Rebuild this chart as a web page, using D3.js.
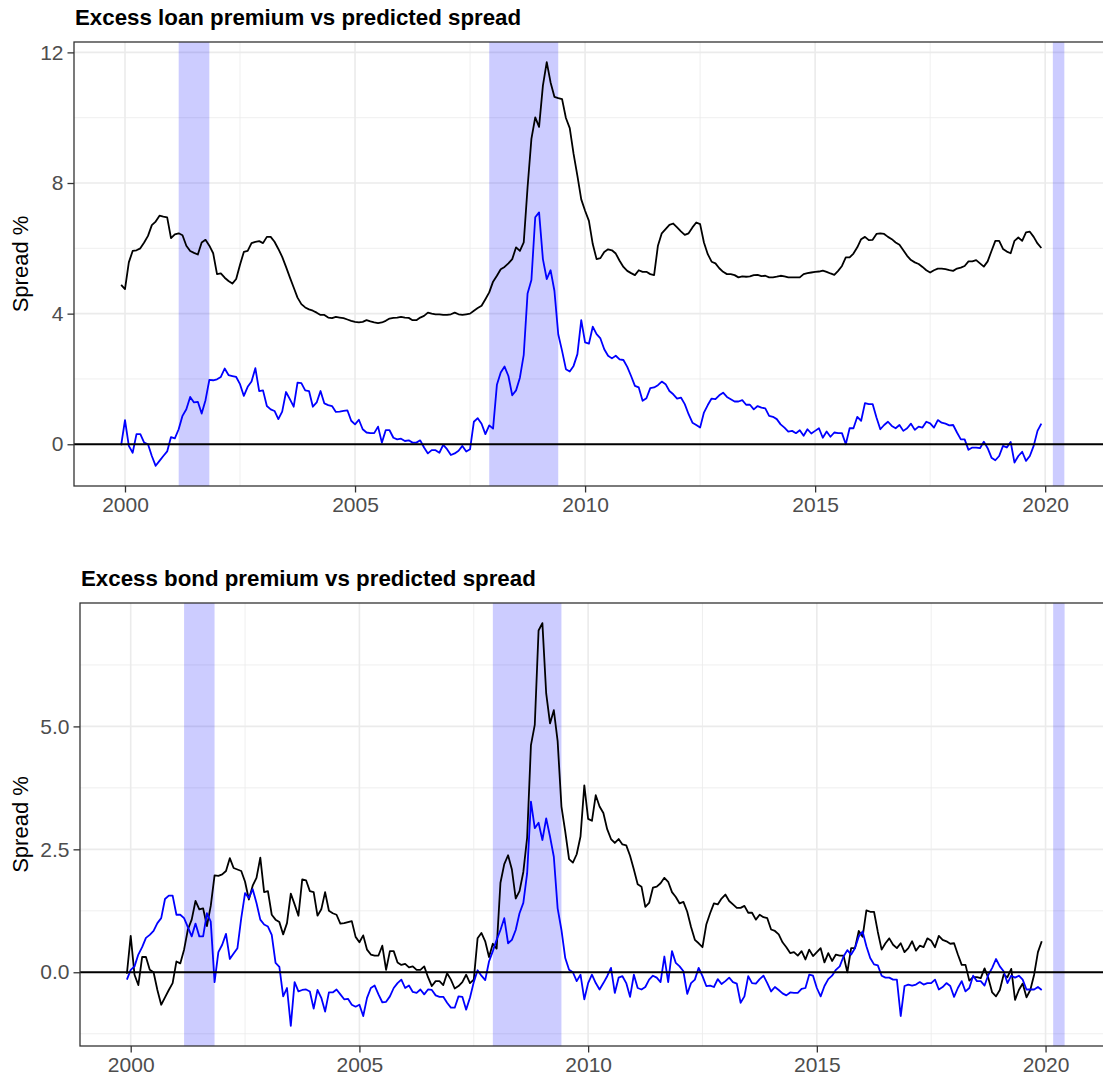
<!DOCTYPE html>
<meta charset="utf-8">
<head>
    <style>
        body { margin: 0; background: #fff; }
        text { font-family: "Liberation Sans", Arial, sans-serif; }
    </style>
    <script src="https://d3js.org/d3.v7.min.js"></script>
</head>
<body>
<script>
// monthly observations, Dec 1999 .. Dec 2019 (one row per year)
var firstMonth = 1999 + 11 / 12;

var excessLoanPremium = [4.88,
    4.75, 5.57, 5.92, 5.94, 6.0, 6.18, 6.38, 6.71, 6.82, 7.0, 6.97, 6.95,
    6.31, 6.43, 6.46, 6.4, 6.08, 5.92, 5.86, 5.81, 6.18, 6.26, 6.08, 5.85,
    5.21, 5.23, 5.1, 5.0, 4.92, 5.06, 5.5, 5.89, 5.92, 6.16, 6.2, 6.22,
    6.16, 6.35, 6.35, 6.2, 5.98, 5.74, 5.43, 5.11, 4.8, 4.49, 4.29, 4.19,
    4.13, 4.09, 4.03, 3.96, 3.96, 3.88, 3.86, 3.9, 3.88, 3.86, 3.82, 3.78,
    3.75, 3.73, 3.75, 3.8, 3.76, 3.73, 3.71, 3.73, 3.78, 3.85, 3.87, 3.88,
    3.9, 3.88, 3.87, 3.8, 3.8, 3.88, 3.93, 4.03, 4.0, 3.98, 3.98, 3.96,
    3.96, 3.98, 4.03, 3.98, 3.96, 3.98, 4.0, 4.09, 4.17, 4.24, 4.44, 4.65,
    4.98, 5.16, 5.36, 5.43, 5.54, 5.67, 6.03, 5.92, 6.18, 7.87, 9.35, 10.01,
    9.72, 10.98, 11.7, 11.08, 10.64, 10.6, 10.57, 9.99, 9.68, 8.89, 8.22, 7.5,
    7.15, 6.84, 6.13, 5.67, 5.7, 5.89, 5.97, 5.94, 5.84, 5.62, 5.43, 5.31,
    5.24, 5.18, 5.33, 5.28, 5.28, 5.21, 5.18, 6.08, 6.46, 6.59, 6.72, 6.76,
    6.64, 6.52, 6.41, 6.46, 6.64, 6.79, 6.74, 6.18, 5.82, 5.59, 5.54, 5.39,
    5.28, 5.21, 5.21, 5.18, 5.11, 5.14, 5.13, 5.14, 5.18, 5.19, 5.15, 5.16,
    5.11, 5.11, 5.13, 5.16, 5.14, 5.11, 5.11, 5.11, 5.11, 5.21, 5.24, 5.26,
    5.28, 5.29, 5.32, 5.28, 5.23, 5.19, 5.31, 5.46, 5.72, 5.72, 5.84, 6.03,
    6.28, 6.35, 6.25, 6.26, 6.44, 6.46, 6.44, 6.35, 6.28, 6.18, 6.11, 5.94,
    5.77, 5.64, 5.57, 5.52, 5.43, 5.33, 5.26, 5.33, 5.38, 5.38, 5.36, 5.33,
    5.31, 5.38, 5.41, 5.46, 5.6, 5.6, 5.64, 5.54, 5.44, 5.6, 5.92, 6.23,
    6.23, 5.98, 5.9, 5.85, 6.23, 6.33, 6.23, 6.49, 6.51, 6.35, 6.15, 6.01];

var predictedSpread = [-0.03,
    0.74, -0.05, -0.26, 0.31, 0.31, 0.05, 0.0, -0.36, -0.66, -0.51, -0.36, -0.22,
    0.22, 0.18, 0.46, 0.87, 1.07, 1.45, 1.28, 1.3, 0.94, 1.35, 1.97, 1.96,
    1.99, 2.06, 2.32, 2.12, 2.09, 2.06, 1.84, 1.48, 1.76, 1.92, 2.33, 1.63,
    1.65, 1.17, 1.07, 1.02, 0.77, 1.0, 1.6, 1.38, 1.15, 1.89, 1.87, 1.65,
    1.63, 1.15, 1.28, 1.63, 1.25, 1.2, 1.17, 0.99, 1.0, 1.02, 1.04, 0.72,
    0.61, 0.75, 0.46, 0.36, 0.34, 0.34, 0.54, 0.05, 0.43, 0.43, 0.2, 0.15,
    0.17, 0.1, 0.12, 0.05, 0.05, 0.12, -0.1, -0.28, -0.18, -0.18, -0.26, -0.02,
    -0.15, -0.33, -0.28, -0.2, -0.05, -0.22, -0.15, 0.69, 0.8, 0.63, 0.31, 0.58,
    0.48, 1.82, 2.2, 2.38, 2.09, 1.5, 1.65, 2.04, 2.74, 4.62, 5.03, 6.95,
    7.1, 5.67, 5.06, 5.33, 4.7, 3.37, 2.86, 2.3, 2.23, 2.4, 2.76, 3.8,
    3.12, 3.08, 3.6, 3.37, 3.24, 2.91, 2.71, 2.63, 2.71, 2.6, 2.58, 2.37,
    2.09, 1.79, 1.74, 1.33, 1.41, 1.72, 1.74, 1.81, 1.92, 1.84, 1.63, 1.53,
    1.4, 1.43, 1.23, 0.92, 0.66, 0.59, 0.51, 0.97, 1.2, 1.4, 1.38, 1.5,
    1.58, 1.45, 1.38, 1.31, 1.31, 1.35, 1.21, 1.21, 1.07, 1.17, 1.12, 1.1,
    0.87, 0.84, 0.77, 0.61, 0.51, 0.39, 0.41, 0.34, 0.43, 0.26, 0.46, 0.33,
    0.41, 0.49, 0.2, 0.39, 0.23, 0.36, 0.34, 0.34, 0.0, 0.49, 0.49, 0.84,
    0.72, 1.26, 1.23, 1.23, 0.82, 0.46, 0.59, 0.69, 0.56, 0.49, 0.59, 0.41,
    0.49, 0.63, 0.44, 0.54, 0.51, 0.69, 0.64, 0.51, 0.74, 0.66, 0.63, 0.58,
    0.59, 0.36, 0.15, 0.15, -0.17, -0.1, -0.1, -0.12, 0.08, -0.12, -0.41, -0.49,
    -0.36, -0.05, -0.1, 0.07, -0.56, -0.36, -0.23, -0.51, -0.36, -0.05, 0.41, 0.63];

var excessBondPremium = [-0.15,
    0.05, 0.12, 0.36, 0.51, 0.7, 0.76, 0.84, 1.0, 1.1, 1.49, 1.56, 1.56,
    1.17, 1.17, 1.1, 0.92, 0.73, 0.99, 0.73, 0.73, 1.2, 1.03, -0.2, 0.41,
    0.56, 0.78, 0.27, 0.38, 0.49, 1.1, 1.61, 1.51, 1.69, 1.41, 1.07, 0.97,
    0.93, 0.76, 0.19, 0.11, -0.49, -0.32, -1.09, -0.2, -0.39, -0.36, -0.35, -0.39,
    -0.74, -0.36, -0.52, -0.8, -0.41, -0.41, -0.35, -0.45, -0.55, -0.54, -0.66, -0.7,
    -0.66, -0.89, -0.52, -0.32, -0.27, -0.45, -0.61, -0.6, -0.49, -0.32, -0.22, -0.15,
    -0.32, -0.27, -0.4, -0.42, -0.35, -0.45, -0.35, -0.36, -0.47, -0.5, -0.5, -0.62,
    -0.72, -0.72, -0.49, -0.5, -0.76, -0.52, -0.2, 0.04, -0.07, -0.16, 0.22, 0.43,
    0.66, 0.86, 1.1, 0.59, 0.66, 0.86, 1.2, 1.41, 2.01, 3.47, 2.93, 3.04,
    2.69, 3.13, 2.76, 2.35, 1.3, 0.86, 0.29, 0.05, 0.0, -0.18, -0.05, -0.55,
    -0.22, -0.05, -0.22, -0.35, -0.22, -0.08, 0.09, -0.42, -0.11, -0.08, -0.22, -0.5,
    -0.05, -0.32, -0.35, -0.3, -0.15, -0.07, -0.11, -0.2, 0.32, -0.2, 0.43, 0.19,
    0.12, 0.02, -0.44, -0.22, -0.15, 0.09, -0.08, -0.28, -0.27, -0.3, -0.14, -0.24,
    -0.18, -0.11, -0.2, -0.23, -0.62, -0.49, -0.08, -0.22, -0.23, -0.14, -0.07, -0.22,
    -0.39, -0.3, -0.36, -0.43, -0.47, -0.41, -0.42, -0.42, -0.34, -0.32, -0.05, -0.07,
    -0.32, -0.49, -0.28, -0.14, -0.07, 0.05, 0.12, 0.32, 0.45, 0.36, 0.49, 0.73,
    0.83, 0.53, 0.29, 0.16, 0.14, -0.07, -0.11, -0.11, -0.15, -0.15, -0.89, -0.28,
    -0.25, -0.27, -0.25, -0.2, -0.25, -0.22, -0.22, -0.15, -0.35, -0.3, -0.22, -0.28,
    -0.5, -0.32, -0.18, -0.39, -0.32, -0.07, -0.18, -0.18, -0.27, -0.05, 0.09, 0.27,
    0.12, 0.02, -0.22, -0.07, -0.11, -0.07, -0.15, -0.35, -0.35, -0.35, -0.3, -0.36];

// recession periods (start, end) in decimal years
var recessions = [[2001 + 2 / 12, 2001 + 10 / 12], [2007 + 11 / 12, 2009 + 5 / 12], [2020 + 2 / 12, 2020 + 5 / 12]];

var xTicks = [2000, 2005, 2010, 2015, 2020];
var xMinor = [2002.5, 2007.5, 2012.5, 2017.5];

var dates = excessLoanPremium.map(function (d, i) { return firstMonth + i / 12; });

var svg = d3.select("body").append("svg")
    .attr("width", 1103)
    .attr("height", 1082);

function expand(ext) {
    var pad = (ext[1] - ext[0]) * 0.05;
    return [ext[0] - pad, ext[1] + pad];
}

var xDomain = expand([
    d3.min([d3.min(dates), d3.min(recessions, function (r) { return r[0]; })]),
    d3.max([d3.max(dates), d3.max(recessions, function (r) { return r[1]; })])
]);

function drawPanel(cfg) {
    var x = d3.scaleLinear().domain(xDomain).range([cfg.left, cfg.right]);
    var allVals = [].concat.apply([], cfg.series.map(function (s) { return s.values; }));
    var y = d3.scaleLinear().domain(expand(d3.extent(allVals))).range([cfg.bottom, cfg.top]);

    var g = svg.append("g");

    // grid
    g.selectAll(".ymin").data(cfg.yMinor).enter().append("line")
        .attr("x1", cfg.left).attr("x2", cfg.right)
        .attr("y1", function (d) { return y(d); }).attr("y2", function (d) { return y(d); })
        .style("stroke", "#ebebeb").style("stroke-width", 0.8);
    g.selectAll(".xmin").data(xMinor).enter().append("line")
        .attr("y1", cfg.top).attr("y2", cfg.bottom)
        .attr("x1", function (d) { return x(d); }).attr("x2", function (d) { return x(d); })
        .style("stroke", "#ebebeb").style("stroke-width", 0.8);
    g.selectAll(".ymaj").data(cfg.yTicks).enter().append("line")
        .attr("x1", cfg.left).attr("x2", cfg.right)
        .attr("y1", function (d) { return y(d); }).attr("y2", function (d) { return y(d); })
        .style("stroke", "#ebebeb").style("stroke-width", 1.6);
    g.selectAll(".xmaj").data(xTicks).enter().append("line")
        .attr("y1", cfg.top).attr("y2", cfg.bottom)
        .attr("x1", function (d) { return x(d); }).attr("x2", function (d) { return x(d); })
        .style("stroke", "#ebebeb").style("stroke-width", 1.6);

    // recession bands
    g.selectAll(".rec").data(recessions).enter().append("rect")
        .attr("x", function (d) { return x(d[0]); })
        .attr("width", function (d) { return x(d[1]) - x(d[0]); })
        .attr("y", cfg.top).attr("height", cfg.bottom - cfg.top)
        .style("fill", "rgba(0,0,255,0.2)");

    var line = d3.line()
        .x(function (d, i) { return x(dates[i]); })
        .y(function (d) { return y(d); });

    cfg.series.forEach(function (s) {
        g.append("path")
            .datum(s.values)
            .attr("d", line)
            .style("fill", "none")
            .style("stroke", s.color)
            .style("stroke-width", 1.8)
            .style("stroke-linejoin", "round");
    });

    // zero line
    g.append("line")
        .attr("x1", cfg.left).attr("x2", cfg.right)
        .attr("y1", y(0)).attr("y2", y(0))
        .style("stroke", "black").style("stroke-width", 1.9);

    // border
    g.append("rect")
        .attr("x", cfg.left).attr("y", cfg.top)
        .attr("width", cfg.right - cfg.left).attr("height", cfg.bottom - cfg.top)
        .style("fill", "none").style("stroke", "#333333").style("stroke-width", 1.3);

    // axes
    var yAxis = g.append("g")
        .attr("transform", "translate(" + cfg.left + ",0)")
        .call(d3.axisLeft(y).tickValues(cfg.yTicks).tickFormat(cfg.fmt).tickSize(6.5).tickPadding(4));
    var xAxis = g.append("g")
        .attr("transform", "translate(0," + cfg.bottom + ")")
        .call(d3.axisBottom(x).tickValues(xTicks).tickFormat(d3.format("d")).tickSize(6.5).tickPadding(5));
    [yAxis, xAxis].forEach(function (a) {
        a.select(".domain").remove();
        a.selectAll(".tick line").style("stroke", "#333333").style("stroke-width", 1.3);
        a.selectAll(".tick text")
            .style("font-family", "'Liberation Sans', Arial, sans-serif")
            .style("font-size", "21px")
            .style("fill", "#4d4d4d");
    });

    // titles
    g.append("text")
        .attr("x", cfg.left + 1)
        .attr("y", cfg.top - 17)
        .style("font-size", "22.3px")
        .style("font-weight", "bold")
        .style("fill", "black")
        .text(cfg.title);

    g.append("text")
        .attr("transform", "translate(28," + ((cfg.top + cfg.bottom) / 2) + ") rotate(-90)")
        .attr("text-anchor", "middle")
        .style("font-size", "22px")
        .style("fill", "black")
        .text("Spread %");
}

drawPanel({
    left: 74, right: 1111.5, top: 42, bottom: 486,
    title: "Excess loan premium vs predicted spread",
    series: [{ values: excessLoanPremium, color: "black" }, { values: predictedSpread, color: "blue" }],
    yTicks: [0, 4, 8, 12],
    yMinor: [2, 6, 10],
    fmt: d3.format("d")
});

drawPanel({
    left: 80, right: 1111.5, top: 603, bottom: 1046,
    title: "Excess bond premium vs predicted spread",
    series: [{ values: predictedSpread, color: "black" }, { values: excessBondPremium, color: "blue" }],
    yTicks: [0, 2.5, 5],
    yMinor: [-1.25, 1.25, 3.75, 6.25],
    fmt: d3.format(".1f")
});
</script>
</body>
